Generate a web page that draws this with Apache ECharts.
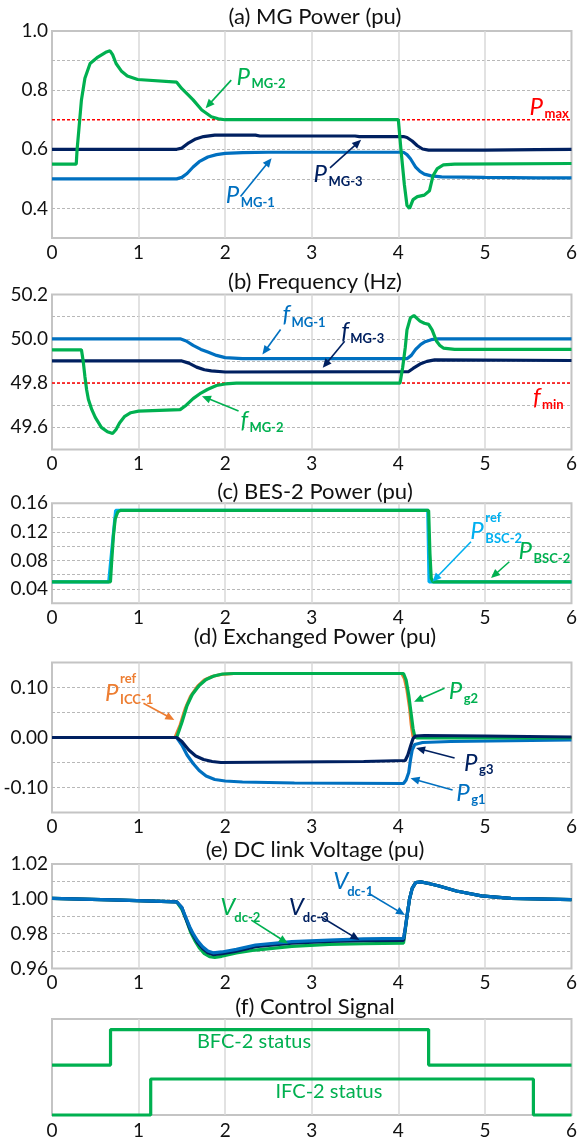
<!DOCTYPE html>
<html>
<head>
<meta charset="utf-8">
<script src="https://cdn.jsdelivr.net/npm/echarts@6/dist/echarts.min.js"></script>
<style>
html, body { margin: 0; padding: 0; background: #fff; }
#chart { width: 580px; height: 1140px; }
</style>
</head>
<body>
<div id="chart"></div>
<script>
const GREEN = '#00b050', NAVY = '#002060', BLUE = '#0070c0', SKY = '#00b0f0', ORANGE = '#ed7d31', RED = '#ff0000';
const FONT = 'Lato';

// (a) MG Power (pu)
const pMG1 = [[0,0.50],[1.44,0.50],[1.50,0.505],[1.56,0.518],[1.63,0.54],[1.70,0.558],[1.80,0.574],[1.90,0.582],[2.00,0.586],[2.20,0.589],[2.50,0.59],[4.06,0.59],[4.10,0.582],[4.14,0.568],[4.20,0.54],[4.25,0.525],[4.30,0.516],[4.38,0.51],[4.50,0.507],[5.0,0.505],[5.6,0.503],[6.0,0.503]];
const pMG3 = [[0,0.60],[1.44,0.60],[1.50,0.604],[1.58,0.622],[1.66,0.635],[1.75,0.643],[1.88,0.648],[2.35,0.648],[2.40,0.645],[3.50,0.645],[3.55,0.643],[4.06,0.643],[4.10,0.64],[4.16,0.628],[4.22,0.612],[4.28,0.601],[4.35,0.597],[5.0,0.597],[5.6,0.599],[6.0,0.600]];
const pMG2 = [[0,0.55],[0.28,0.55],[0.29,0.60],[0.31,0.666],[0.34,0.767],[0.38,0.84],[0.44,0.89],[0.53,0.912],[0.62,0.928],[0.67,0.933],[0.70,0.92],[0.74,0.89],[0.80,0.865],[0.87,0.848],[0.99,0.836],[1.44,0.827],[1.50,0.805],[1.57,0.785],[1.63,0.767],[1.73,0.733],[1.84,0.71],[1.92,0.703],[2.0,0.70],[4.0,0.70],[4.03,0.60],[4.07,0.48],[4.10,0.41],[4.13,0.40],[4.17,0.43],[4.22,0.44],[4.30,0.445],[4.36,0.46],[4.40,0.51],[4.45,0.535],[4.52,0.547],[4.65,0.55],[6.0,0.552]];
const pMax = [[0,0.7],[6,0.7]];
const aTicks = [0.4, 0.6, 0.8, 1.0];

// (b) Frequency (Hz)
const fMG1 = [[0,50.0],[1.48,50.0],[1.55,49.99],[1.63,49.97],[1.72,49.952],[1.80,49.94],[1.90,49.925],[2.0,49.915],[2.2,49.91],[4.1,49.91],[4.15,49.925],[4.2,49.952],[4.26,49.975],[4.31,49.987],[4.38,49.996],[4.46,50.0],[6,50.0]];
const fMG3 = [[0,49.90],[1.5,49.90],[1.58,49.89],[1.67,49.872],[1.76,49.86],[1.84,49.855],[2.0,49.85],[4.12,49.852],[4.17,49.866],[4.25,49.886],[4.33,49.898],[4.42,49.905],[6,49.902]];
const fMG2 = [[0,49.95],[0.34,49.95],[0.36,49.9],[0.38,49.83],[0.40,49.77],[0.42,49.727],[0.46,49.68],[0.50,49.645],[0.57,49.6],[0.64,49.58],[0.70,49.572],[0.74,49.59],[0.78,49.62],[0.84,49.65],[0.91,49.666],[1.0,49.673],[1.48,49.68],[1.55,49.7],[1.63,49.73],[1.72,49.755],[1.80,49.772],[1.90,49.789],[2.0,49.796],[2.13,49.8],[4.02,49.8],[4.05,49.87],[4.08,49.96],[4.10,50.04],[4.14,50.095],[4.18,50.105],[4.25,50.08],[4.30,50.07],[4.35,50.065],[4.39,50.04],[4.44,49.99],[4.48,49.97],[4.52,49.958],[4.65,49.952],[6,49.952]];
const fMin = [[0,49.8],[6,49.8]];
const bTicks = [49.6, 49.8, 50.0, 50.2];

// (c) BES-2 Power (pu)
const bscRef = [[0,0.05],[0.655,0.05],[0.735,0.15],[4.34,0.15],[4.355,0.05],[6,0.05]];
const bsc = [[0,0.05],[0.675,0.05],[0.69,0.08],[0.71,0.115],[0.73,0.138],[0.76,0.148],[0.79,0.15],[4.35,0.15],[4.365,0.09],[4.38,0.055],[4.40,0.05],[6,0.05]];
const cTicks = [0.04, 0.08, 0.12, 0.16];

// (d) Exchanged Power (pu)
const pICC = [[0,0],[1.42,0],[1.48,0.025],[1.54,0.058],[1.60,0.082],[1.68,0.102],[1.76,0.115],[1.85,0.122],[1.95,0.126],[2.1,0.128],[4.04,0.128],[4.07,0.118],[4.10,0.095],[4.13,0.06],[4.15,0.025],[4.17,0.002],[4.2,0],[6,0]];
const pG2 = [[0,0],[1.44,0],[1.50,0.03],[1.56,0.064],[1.62,0.086],[1.70,0.104],[1.78,0.116],[1.87,0.123],[1.97,0.127],[2.1,0.128],[4.06,0.128],[4.09,0.115],[4.12,0.085],[4.15,0.045],[4.17,0.018],[4.19,0.002],[4.22,-0.001],[6,-0.001]];
const pG1 = [[0,0],[1.44,0],[1.50,-0.015],[1.56,-0.035],[1.63,-0.052],[1.70,-0.066],[1.78,-0.077],[1.88,-0.084],[2.0,-0.087],[2.2,-0.089],[2.8,-0.091],[4.06,-0.092],[4.09,-0.085],[4.12,-0.07],[4.14,-0.045],[4.16,-0.025],[4.19,-0.014],[4.28,-0.01],[4.6,-0.008],[6,-0.005]];
const pG3 = [[0,0],[1.44,0],[1.50,-0.008],[1.58,-0.025],[1.66,-0.037],[1.75,-0.044],[1.85,-0.048],[1.95,-0.05],[3.6,-0.048],[4.08,-0.046],[4.11,-0.035],[4.14,-0.018],[4.17,-0.002],[4.20,0.003],[4.3,0.004],[5.0,0.003],[6,0.001]];
const dTicks = [-0.10, 0.00, 0.10];

// (e) DC link Voltage (pu)
const vdc2 = [[0,1.0003],[0.8,0.9993],[1.44,0.9983],[1.50,0.994],[1.55,0.988],[1.60,0.981],[1.65,0.976],[1.70,0.972],[1.76,0.9685],[1.82,0.9668],[1.88,0.9664],[1.96,0.967],[2.13,0.969],[2.35,0.9706],[2.77,0.9727],[3.2,0.9738],[3.6,0.9742],[4.06,0.9746],[4.08,0.982],[4.10,0.99],[4.13,1.0],[4.16,1.006],[4.20,1.0093],[4.26,1.0097],[4.35,1.0088],[4.46,1.0075],[4.67,1.0045],[4.96,1.0017],[5.3,1.0003],[6,0.9995]];
const vdc3 = [[0,1.0003],[0.8,0.9993],[1.44,0.9983],[1.50,0.995],[1.54,0.9895],[1.59,0.9832],[1.63,0.9792],[1.68,0.975],[1.74,0.9715],[1.80,0.969],[1.86,0.968],[1.96,0.9685],[2.13,0.97],[2.35,0.9725],[2.77,0.9745],[3.2,0.9755],[3.6,0.976],[4.06,0.9762],[4.08,0.983],[4.10,0.99],[4.13,1.0],[4.16,1.006],[4.20,1.0093],[4.26,1.0097],[4.35,1.0088],[4.46,1.0075],[4.67,1.0045],[4.96,1.0017],[5.3,1.0003],[6,0.9995]];
const vdc1 = [[0,1.0003],[0.8,0.9993],[1.44,0.9983],[1.50,0.995],[1.54,0.99],[1.59,0.984],[1.63,0.98],[1.68,0.976],[1.74,0.9725],[1.80,0.97],[1.86,0.969],[1.96,0.9695],[2.13,0.971],[2.35,0.9735],[2.77,0.9754],[3.2,0.9763],[3.6,0.977],[4.06,0.9773],[4.08,0.983],[4.10,0.99],[4.13,1.0],[4.16,1.006],[4.20,1.0093],[4.26,1.0097],[4.35,1.0088],[4.46,1.0075],[4.67,1.0045],[4.96,1.0017],[5.3,1.0003],[6,0.9995]];
const eTicks = [0.96, 0.98, 1.00, 1.02];

// (f) Control Signal (step lines)
const bfc = [[0,0.52],[0.676,0.89],[4.35,0.52],[6,0.52]];
const ifc = [[0,0],[1.14,0.375],[5.56,0],[6,0]];

const titles = ['(a) MG Power (pu)', '(b) Frequency (Hz)', '(c) BES-2 Power (pu)', '(d) Exchanged Power (pu)', '(e) DC link Voltage (pu)', '(f) Control Signal'];

const panels = [
  { top: 31, height: 207, min: 0.3, max: 1.0, step: 0.1, ticks: aTicks, dec: 1, titleY: 17 },
  { top: 294.5, height: 155, min: 49.5, max: 50.2, step: 0.1, ticks: bTicks, dec: 1, titleY: 282 },
  { top: 503.3, height: 100, min: 0.02, max: 0.16, step: 0.02, ticks: cTicks, dec: 2, titleY: 492 },
  { top: 662.5, height: 150, min: -0.15, max: 0.15, step: 0.05, ticks: dTicks, dec: 2, titleY: 637 },
  { top: 864, height: 104.5, min: 0.96, max: 1.02, step: 0.01, ticks: eTicks, dec: 2, titleY: 850 },
  { top: 1019, height: 100, min: 0, max: 1, step: 0.5, ticks: [], dec: 0, titleY: 1007 }
];

const chart = echarts.init(document.getElementById('chart'));

const line = (g, data, color, extra) => Object.assign({
  type: 'line', xAxisIndex: g, yAxisIndex: g, data: data, showSymbol: false,
  lineStyle: { color: color, width: 3.2 }, itemStyle: { color: color }, z: 3
}, extra || {});
const dotted = (g, data) => ({
  type: 'line', xAxisIndex: g, yAxisIndex: g, data: data, showSymbol: false,
  lineStyle: { color: RED, width: 1.5, type: [3, 2] }, z: 2
});

const option = {
  animation: false,
  backgroundColor: '#fff',
  grid: panels.map(p => ({
    left: 52, width: 526.5, top: p.top, height: p.height,
    show: true, borderColor: '#c4c4c4', borderWidth: 2
  })),
  xAxis: panels.map((p, i) => ({
    type: 'value', gridIndex: i, min: 0, max: 6, interval: 1,
    axisLine: { show: false }, axisTick: { show: false },
    axisLabel: { fontSize: 19, fontFamily: FONT, color: '#111', margin: i === 5 ? 6 : 5 },
    splitLine: { show: true, showMinLine: false, showMaxLine: false, lineStyle: { color: '#d9d9d9', width: 1.5 } }
  })),
  yAxis: panels.map((p, i) => ({
    type: 'value', gridIndex: i, min: p.min, max: p.max, interval: p.step,
    axisLine: { show: false }, axisTick: { show: false },
    axisLabel: {
      show: i < 5, fontSize: 19, fontFamily: FONT, color: '#111', margin: 4,
      formatter: v => p.ticks.some(t => Math.abs(t - v) < 1e-6) ? v.toFixed(p.dec) : ''
    },
    splitLine: { show: i < 5, showMinLine: false, showMaxLine: false, lineStyle: { color: '#b8b8b8', width: 1, type: [3, 2] } }
  })),
  series: [
    dotted(0, pMax),
    line(0, pMG1, BLUE), line(0, pMG3, NAVY), line(0, pMG2, GREEN),
    dotted(1, fMin),
    line(1, fMG1, BLUE), line(1, fMG3, NAVY), line(1, fMG2, GREEN),
    line(2, bscRef, SKY), line(2, bsc, GREEN),
    line(3, pG1, BLUE), line(3, pICC, ORANGE), line(3, pG2, GREEN), line(3, pG3, NAVY),
    line(4, vdc2, GREEN), line(4, vdc3, NAVY), line(4, vdc1, BLUE),
    line(5, bfc, GREEN, { step: 'end', clip: false }), line(5, ifc, GREEN, { step: 'end', clip: false })
  ]
};
chart.setOption(option);

// annotations: position of the big letter (left, middle) and arrow start -> tip, in data units
const notes = [
  { g: 0, at: [2.13, 0.845], main: 'P', sub: 'MG-2', color: GREEN, arrow: [[2.07, 0.834], [1.774, 0.739]] },
  { g: 0, at: [5.516, 0.742], main: 'P', sub: 'max', color: RED },
  { g: 0, at: [3.02, 0.514], main: 'P', sub: 'MG-3', color: NAVY, arrow: [[3.211, 0.537], [3.57, 0.632]] },
  { g: 0, at: [2.007, 0.443], main: 'P', sub: 'MG-1', color: BLUE, arrow: [[2.177, 0.44], [2.536, 0.57]] },
  { g: 1, at: [2.662, 50.109], main: 'f', sub: 'MG-1', color: BLUE, arrow: [[2.64, 50.042], [2.43, 49.929]] },
  { g: 1, at: [3.34, 50.034], main: 'f', sub: 'MG-3', color: NAVY, arrow: [[3.38, 49.989], [3.127, 49.869]] },
  { g: 1, at: [5.556, 49.736], main: 'f', sub: 'min', color: RED },
  { g: 1, at: [2.176, 49.632], main: 'f', sub: 'MG-2', color: GREEN, arrow: [[2.155, 49.674], [1.732, 49.741]] },
  { g: 2, at: [4.832, 0.1202], main: 'P', sub: 'BSC-2', sup: 'ref', color: SKY, arrow: [[4.839, 0.1062], [4.394, 0.0502]] },
  { g: 2, at: [5.388, 0.0922], main: 'P', sub: 'BSC-2', color: GREEN, arrow: [[5.282, 0.0782], [5.071, 0.0554]] },
  { g: 3, at: [0.613, 0.0884], main: 'P', sub: 'ICC-1', sup: 'ref', color: ORANGE, arrow: [[1.056, 0.0684], [1.413, 0.035]] },
  { g: 3, at: [4.581, 0.0916], main: 'P', sub: 'g2', color: GREEN, arrow: [[4.533, 0.0984], [4.182, 0.0716]] },
  { g: 3, at: [4.759, -0.051], main: 'P', sub: 'g3', color: NAVY, arrow: [[4.65, -0.041], [4.205, -0.021]] },
  { g: 3, at: [4.669, -0.111], main: 'P', sub: 'g1', color: BLUE, arrow: [[4.627, -0.105], [4.141, -0.0816]] },
  { g: 4, at: [3.248, 1.0098], main: 'V', sub: 'dc-1', color: BLUE, arrow: [[3.655, 1.0032], [4.077, 0.9907]] },
  { g: 4, at: [2.735, 0.995], main: 'V', sub: 'dc-3', color: NAVY, arrow: [[3.105, 0.9897], [3.55, 0.9763]] },
  { g: 4, at: [1.944, 0.995], main: 'V', sub: 'dc-2', color: GREEN, arrow: [[2.302, 0.9878], [2.724, 0.9744]] }
];
const statusTexts = [
  { g: 5, at: [2.333, 0.76], text: 'BFC-2 status' },
  { g: 5, at: [3.199, 0.24], text: 'IFC-2 status' }
];

const px = (g, p) => chart.convertToPixel({ gridIndex: g }, p);
const text = (x, y, s, font, fill, align) => ({
  type: 'text', x: x, y: y, z: 10,
  style: { text: s, font: font, fill: fill, textAlign: align || 'left', align: align || 'left', textVerticalAlign: 'middle', verticalAlign: 'middle' }
});

const graphic = [];
titles.forEach((t, i) => graphic.push(text(315, panels[i].titleY, t, '22px ' + FONT, '#111', 'center')));

const mainW = { P: 15, f: 9, V: 14 };
const subDy = { P: 7, f: 8, V: 10 };
notes.forEach(n => {
  const [x, y] = px(n.g, n.at);
  graphic.push(text(x, y, n.main, 'italic 24px ' + FONT, n.color));
  graphic.push(text(x + mainW[n.main], y + subDy[n.main], n.sub, 'bold 13px ' + FONT, n.color));
  if (n.sup) graphic.push(text(x + mainW[n.main], y - 14, n.sup, 'bold 13px ' + FONT, n.color));
  if (n.arrow) {
    const a = px(n.g, n.arrow[0]), b = px(n.g, n.arrow[1]);
    const dx = b[0] - a[0], dy = b[1] - a[1], len = Math.hypot(dx, dy);
    const ux = dx / len, uy = dy / len, L = 9, W = 4;
    graphic.push({ type: 'line', z: 10, shape: { x1: a[0], y1: a[1], x2: b[0] - ux * L * 0.8, y2: b[1] - uy * L * 0.8 }, style: { stroke: n.color, lineWidth: 1.6 } });
    graphic.push({ type: 'polygon', z: 10, shape: { points: [[b[0], b[1]], [b[0] - ux * L - uy * W, b[1] - uy * L + ux * W], [b[0] - ux * L + uy * W, b[1] - uy * L - ux * W]] }, style: { fill: n.color } });
  }
});
statusTexts.forEach(s => {
  const [x, y] = px(s.g, s.at);
  graphic.push(text(x, y, s.text, '20px ' + FONT, GREEN, 'center'));
});

chart.setOption({ graphic: graphic });
</script>
</body>
</html>
